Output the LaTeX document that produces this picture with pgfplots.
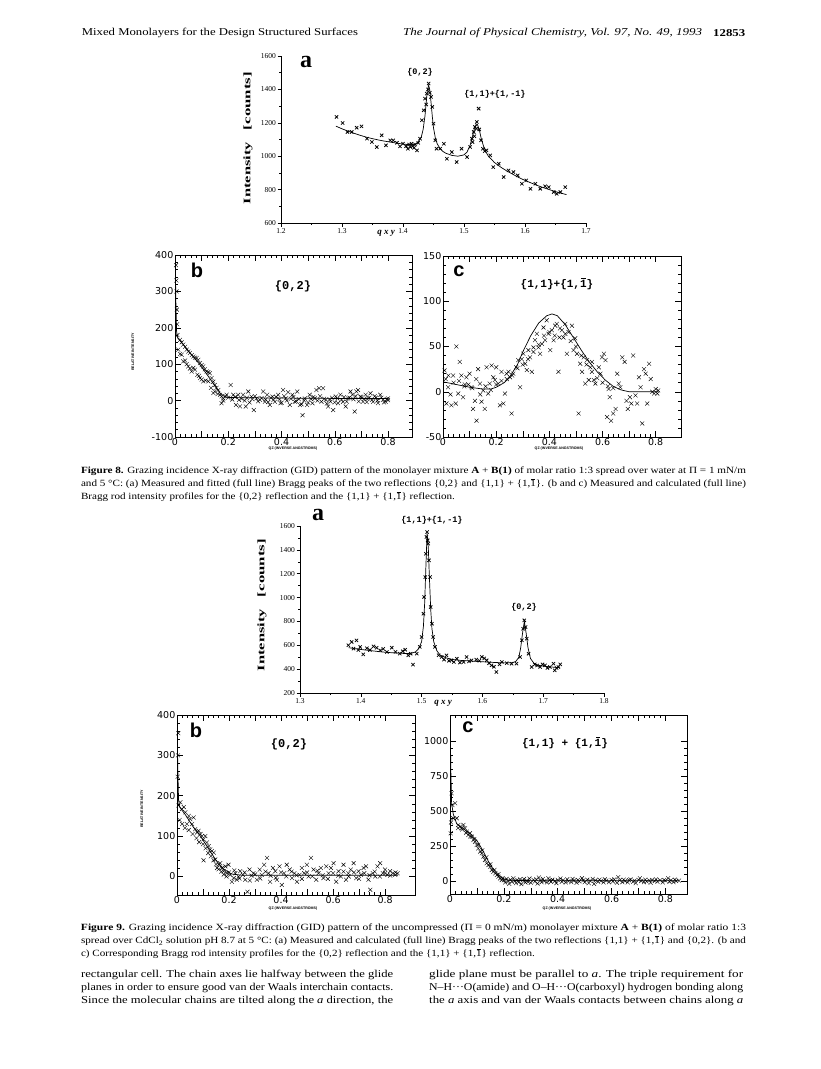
\documentclass[border=0pt]{standalone}
\usepackage{pgfplots}
\pgfplotsset{compat=1.18}
\usepackage{fontspec}
\usepackage{graphicx}
\setmainfont{Liberation Serif}
\newfontfamily\dv{DejaVu Sans}
\newfontfamily\mono{Liberation Mono}
\newfontfamily\hv{Liberation Sans}
\newcommand\fitw[2]{\resizebox{#1}{\height}{#2}}
\newcommand\bo{\makebox[0pt][l]{\kern0.06em\rule[0.74em]{0.38em}{0.055em}}1}
\newcommand\bom{\makebox[0pt][l]{\kern0.12em\rule[0.74em]{0.38em}{0.07em}}1}
\pgfplotsset{
 apanel/.style={scale only axis, axis x line=bottom, axis y line=left,
   axis line style={-, line width=0.6pt}, tick align=outside,
   tick style={black, line width=0.5pt}, major tick length=3.5pt, minor tick length=2pt,
   minor tick num=1,
   tick label style={font=\fontsize{7.5}{7.5}\selectfont, inner sep=1.5pt},
   clip=false},
 bpanel/.style={scale only axis, tick align=inside, tick pos=both,
   axis line style={line width=0.6pt},
   tick style={black, line width=0.5pt}, major tick length=6pt, minor tick length=3pt,
   minor tick num=4,
   xtick={0,0.1,0.2,0.3,0.4,0.5,0.6,0.7,0.8},
   xticklabels={0,,0.2,,0.4,,0.6,,0.8},
   tick label style={font=\dv\fontsize{9.5}{9.5}\selectfont, inner sep=1.5pt},
   xmin=0},
 amark/.style={only marks, mark=x, mark size=2.3pt, mark options={line width=0.75pt}},
 bmark/.style={only marks, mark=x, mark size=2.8pt, mark options={line width=0.4pt}},
 fit/.style={no marks, line width=0.7pt, black},
}
\begin{document}
\begin{tikzpicture}
\useasboundingbox (0pt,0pt) rectangle (821pt,-1069pt);
\fill[white] (0pt,0pt) rectangle (821pt,-1069pt);

% ---------- header ----------
\node[anchor=west, inner sep=0] at (81.7pt,-33pt) {\fitw{276pt}{\fontsize{10.5}{11}\selectfont Mixed Monolayers for the Design Structured Surfaces}};
\node[anchor=west, inner sep=0] at (403pt,-33pt) {\fitw{299pt}{\fontsize{10.5}{11}\selectfont\itshape The Journal of Physical Chemistry, Vol. 97, No. 49, 1993}};
\node[anchor=west, inner sep=0] at (713pt,-33pt) {\fitw{32pt}{\fontsize{10.5}{11}\selectfont\bfseries 12853}};

% ---------- Fig 8a ----------
\begin{axis}[apanel, at={(281pt,-223pt)}, anchor=south west, width=305pt, height=167pt,
  xmin=1.2, xmax=1.7, ymin=600, ymax=1600,
  xtick={1.2,1.3,1.4,1.5,1.6,1.7}, xticklabels={1.2,1.3,1.4,1.5,1.6,1.7},
  ytick={600,800,1000,1200,1400,1600}, yticklabels={600,800,1000,1200,1400,1600}]
\addplot[amark] coordinates {(1.291,1235)(1.301,1199)(1.309,1145)(1.316,1145)(1.324,1171)(1.332,1179)(1.341,1105)(1.349,1085)(1.357,1055)(1.365,1125)(1.372,1065)(1.379,1095)(1.384,1095)(1.390,1080)(1.395,1059)(1.400,1075)(1.405,1060)(1.408,1045)(1.410,1070)(1.412,1055)(1.414,1075)(1.416,1060)(1.418,1050)(1.420,1070)(1.423,1035)(1.425,1080)(1.428,1105)(1.431,1215)(1.434,1275)(1.436,1345)(1.438,1310)(1.439,1375)(1.441,1400)(1.442,1435)(1.444,1380)(1.446,1355)(1.448,1295)(1.450,1195)(1.453,1095)(1.455,1045)(1.461,1045)(1.467,1075)(1.472,985)(1.480,1025)(1.488,965)(1.496,1045)(1.505,995)(1.510,1055)(1.513,1105)(1.514,1085)(1.516,1145)(1.517,1120)(1.518,1175)(1.520,1165)(1.521,1205)(1.524,1285)(1.525,1160)(1.528,1095)(1.531,1045)(1.534,1030)(1.537,1035)(1.543,1005)(1.548,935)(1.557,955)(1.565,875)(1.573,915)(1.581,905)(1.588,885)(1.595,835)(1.602,855)(1.609,805)(1.617,835)(1.625,805)(1.633,820)(1.639,815)(1.647,785)(1.652,775)(1.658,785)(1.666,815)};
\addplot[fit] coordinates {(1.29,1180)(1.30,1164)(1.31,1150)(1.32,1137)(1.33,1125)(1.34,1114)(1.35,1105)(1.36,1097)(1.37,1090)(1.38,1084)(1.39,1078)(1.40,1073)(1.41,1069)(1.415,1068)(1.42,1072)(1.425,1085)(1.43,1115)(1.433,1160)(1.436,1240)(1.438,1320)(1.44,1395)(1.442,1425)(1.444,1395)(1.446,1320)(1.448,1240)(1.45,1170)(1.453,1110)(1.456,1075)(1.46,1050)(1.465,1030)(1.47,1018)(1.48,1005)(1.49,1000)(1.50,1008)(1.505,1025)(1.51,1065)(1.514,1120)(1.517,1165)(1.52,1192)(1.522,1190)(1.525,1160)(1.528,1110)(1.532,1060)(1.536,1025)(1.54,1000)(1.55,962)(1.56,935)(1.57,912)(1.58,892)(1.59,872)(1.60,855)(1.61,840)(1.62,825)(1.63,812)(1.64,800)(1.65,788)(1.66,778)(1.668,770)};
\end{axis}
\node[font=\fontsize{24}{24}\selectfont\bfseries] at (306pt,-62pt) {a};
\node[font=\mono\bfseries\fontsize{8.5}{9}\selectfont] at (420pt,-72pt) {\{0,2\}};
\node[font=\mono\bfseries\fontsize{8.5}{9}\selectfont] at (495pt,-94.5pt) {\{1,1\}+\{1,-1\}};
\node[fill=white, inner sep=1pt, font=\bfseries\itshape\fontsize{9}{9}\selectfont] at (386pt,-233pt) {q x y};
\node[rotate=90, font=\bfseries\fontsize{10}{10}\selectfont] at (248pt,-138pt) {\fitw{62pt}{Intensity}\hspace{12pt}\fitw{58pt}{[counts]}};

% ---------- Fig 8b ----------
\begin{axis}[bpanel, at={(175pt,-437pt)}, anchor=south west, width=237pt, height=182pt,
  xmax=0.89, ymin=-100, ymax=400,
  ytick={-100,0,100,200,300,400}, yticklabels={-100,0,100,200,300,400}]
\addplot[bmark] coordinates {(0.004,372)(0.005,330)(0.006,300)(0.007,250)(0.008,210)(0.009,180)
(0.019,167)(0.025,160)(0.031,154)(0.038,148)(0.044,140)(0.05,135)(0.056,131)(0.063,125)(0.069,121)(0.075,118)(0.081,117)(0.0875,112)(0.094,103)(0.1,98)(0.106,94)(0.112,86)(0.119,80)(0.125,78)(0.131,75)(0.1375,62)(0.144,52)(0.15,43)(0.156,35)(0.1625,29)(0.169,16)(0.175,12)(0.181,6)
(0.012,140)(0.019,128)(0.025,126)(0.031,108)(0.038,110)(0.044,100)(0.05,94)(0.056,88)(0.0625,80)(0.069,90)(0.075,85)(0.084,71)(0.09,68)(0.094,62)(0.1,58)(0.106,53)(0.115,55)(0.125,53)(0.135,35)(0.144,21)(0.15,25)(0.16,18)(0.175,-7)(0.181,0)(0.19,12)
(0.194,16)(0.209,43)(0.219,16)(0.229,-12)(0.2375,16)(0.244,-16)(0.256,16)(0.266,-16)(0.275,25)(0.2875,11)(0.296,-26)(0.306,6)(0.319,2)(0.331,25)(0.3375,-3)(0.346,16)(0.356,-12)(0.366,11)(0.375,-3)(0.3875,16)(0.396,-7)(0.406,29)(0.416,6)(0.425,23)(0.431,-12)(0.441,16)(0.45,-3)(0.459,25)(0.469,-12)(0.479,-40)(0.4875,6)(0.496,-12)(0.506,16)(0.516,-7)(0.525,6)(0.531,29)(0.541,34)(0.55,-3)(0.556,34)(0.566,2)(0.575,-16)(0.584,-3)(0.594,-26)(0.604,11)(0.6125,-7)(0.621,16)(0.631,-3)(0.641,-16)(0.65,6)(0.659,25)(0.666,16)(0.675,-30)(0.681,25)(0.6875,29)(0.696,11)(0.706,-3)(0.716,16)(0.725,6)(0.734,20)(0.744,-3)(0.754,8)(0.7625,-7)(0.771,16)(0.781,2)(0.791,-3)(0.8,6)
(0.2,8)(0.215,3)(0.225,10)(0.24,2)(0.25,5)(0.262,0)(0.27,8)(0.28,-5)(0.29,4)(0.3,12)(0.312,-2)(0.325,7)(0.34,3)(0.35,-4)(0.36,8)(0.37,2)(0.38,10)(0.392,4)(0.4,-6)(0.41,12)(0.42,0)(0.435,5)(0.445,10)(0.455,-2)(0.465,4)(0.475,-10)(0.485,0)(0.5,-5)(0.51,5)(0.52,10)(0.535,0)(0.545,12)(0.56,5)(0.57,-8)(0.58,4)(0.59,8)(0.6,-5)(0.61,6)(0.625,2)(0.635,10)(0.645,-3)(0.655,8)(0.67,4)(0.678,12)(0.69,-2)(0.7,10)(0.71,5)(0.72,-4)(0.73,8)(0.74,2)(0.75,12)(0.76,0)(0.775,8)(0.785,-5)(0.795,4)(0.8,1)};
\addplot[fit] coordinates {(0.001,400)(0.003,280)(0.006,190)(0.01,172)(0.03,155)(0.06,128)(0.09,102)(0.12,72)(0.15,40)(0.17,20)(0.19,9)(0.25,8)(0.4,7)(0.6,6)(0.8,6)};
\end{axis}
\node[font=\hv\bfseries\fontsize{20}{20}\selectfont] at (197pt,-270pt) {b};
\node[font=\mono\bfseries\fontsize{12}{12}\selectfont] at (293pt,-286pt) {\{0,2\}};
\node[font=\hv\bfseries\fontsize{3.6}{4}\selectfont] at (293pt,-449pt) {QZ (INVERSE ANGSTROMS)};
\node[rotate=90, font=\hv\bfseries\fontsize{3.6}{4}\selectfont] at (133pt,-352pt) {RELATIVE INTENSITY};

% ---------- Fig 8c ----------
\begin{axis}[bpanel, at={(443pt,-437pt)}, anchor=south west, width=238pt, height=181pt,
  xmax=0.895, ymin=-50, ymax=150,
  ytick={-50,0,50,100,150}, yticklabels={-50,0,50,100,150}]
\addplot[bmark] coordinates {(0.006,23.6)(0.01,14)(0.019,5)(0.013,-13)(0.0315,-15)(0.048,-13)(0.028,-3)(0.038,18)(0.05,50)(0.063,33)(0.057,-2)(0.069,18)(0.0756,-6)(0.082,8)(0.088,16)(0.1,20)(0.107,5)(0.113,-19)(0.12,-10)(0.126,-32)(0.132,25)(0.139,9)(0.145,-11)(0.151,1.5)(0.157,-19)(0.164,27)(0.17,-2)(0.176,9)(0.183,29)(0.189,16)(0.195,13)(0.2,27)(0.208,9)(0.214,-15)(0.22,22)(0.227,-13)(0.233,-2)(0.239,20)(0.246,22)(0.252,16)(0.258,-24)(0.264,20)(0.275,27)(0.283,35)(0.29,5)(0.296,36)(0.302,42)(0.309,31)(0.315,24)(0.321,46)(0.327,38)(0.334,22)(0.34,49)(0.346,57)(0.353,64)(0.359,49)(0.365,42)(0.372,53)(0.378,71)(0.384,57)(0.39,79)(0.397,64)(0.403,46)(0.409,68)(0.416,57)(0.422,73)(0.428,75)(0.434,22)(0.438,60)(0.447,68)(0.453,60)(0.46,75)(0.466,42)(0.472,66)(0.485,73)(0.491,46)(0.497,59)(0.504,42)(0.51,-24)(0.516,31)(0.523,22)(0.529,38)(0.535,9)(0.542,35)(0.548,13)(0.554,27)(0.56,33)(0.567,13)(0.573,9)(0.586,27)(0.592,20)(0.598,38)(0.605,42)(0.611,35)(0.617,-28)(0.623,3)(0.627,-6)(0.632,-32)(0.64,-24)(0.649,-19)(0.655,20)(0.661,9)(0.667,5)(0.674,38)(0.683,33)(0.69,-10)(0.695,-19)(0.703,-6)(0.708,-13)(0.715,40)(0.724,-4)(0.73,-13)(0.737,16)(0.743,5)(0.749,-35)(0.756,25)(0.762,20)(0.768,-13)(0.775,31)(0.781,14)(0.787,0)(0.794,-2)(0.8,3)(0.806,-2)(0.809,1.5)
(0.02,18)(0.04,10)(0.06,12)(0.08,6)(0.095,8)(0.11,4)(0.125,14)(0.14,-3)(0.16,6)(0.18,2)(0.2,8)(0.22,12)(0.24,14)(0.26,18)(0.28,26)(0.3,30)(0.32,36)(0.34,44)(0.36,52)(0.38,62)(0.4,66)(0.42,62)(0.44,70)(0.46,64)(0.48,56)(0.5,50)(0.52,40)(0.54,30)(0.56,22)(0.58,15)(0.6,10)(0.62,6)(0.64,4)};
\addplot[fit] coordinates {(0,11)(0.05,8)(0.1,5)(0.15,3)(0.18,3)(0.2,5)(0.23,10)(0.25,16)(0.28,30)(0.3,44)(0.33,62)(0.36,76)(0.39,84)(0.41,86)(0.43,84)(0.46,74)(0.49,60)(0.52,46)(0.55,33)(0.58,22)(0.61,13)(0.64,6)(0.67,2)(0.7,0)(0.75,0)(0.81,0)};
\end{axis}
\node[font=\hv\bfseries\fontsize{20}{20}\selectfont] at (459pt,-271pt) {c};
\node[font=\mono\bfseries\fontsize{11}{11}\selectfont] at (557pt,-284pt) {\{1,1\}+\{1,\bom\}};
\node[font=\hv\bfseries\fontsize{3.6}{4}\selectfont] at (559pt,-449pt) {QZ (INVERSE ANGSTROMS)};

% ---------- Fig 8 caption ----------
\begin{scope}[every node/.style={anchor=west, inner sep=0, font=\fontsize{9.5}{10}\selectfont}]
\node at (80.8pt,-471pt) {\fitw{665pt}{\textbf{Figure 8.} Grazing incidence X-ray diffraction (GID) pattern of the monolayer mixture \textbf{A} + \textbf{B(1)} of molar ratio 1:3 spread over water at Π = 1 mN/m}};
\node at (80.8pt,-484pt) {\fitw{665pt}{and 5 °C: (a) Measured and fitted (full line) Bragg peaks of the two reflections \{0,2\} and \{1,1\} + \{1,\bo\}. (b and c) Measured and calculated (full line)}};
\node at (80.8pt,-497pt) {\fitw{374pt}{Bragg rod intensity profiles for the \{0,2\} reflection and the \{1,1\} + \{1,\bo\} reflection.}};
\end{scope}

% ---------- Fig 9a ----------
\begin{axis}[apanel, at={(300pt,-693pt)}, anchor=south west, width=304pt, height=167pt,
  xmin=1.3, xmax=1.8, ymin=200, ymax=1600,
  xtick={1.3,1.4,1.5,1.6,1.7,1.8}, xticklabels={1.3,1.4,1.5,1.6,1.7,1.8},
  ytick={200,400,600,800,1000,1200,1400,1600}, yticklabels={200,400,600,800,1000,1200,1400,1600}]
\addplot[amark] coordinates {(1.3795,600)(1.385,628)(1.388,572)(1.393,641)(1.396,560)(1.399,586)(1.404,524)(1.41,575)(1.415,560)(1.421,591)(1.426,580)(1.432,558)(1.437,570)(1.443,544)(1.451,580)(1.457,545)(1.464,530)(1.469,550)(1.473,563)(1.478,516)(1.482,530)(1.486,438)(1.492,530)(1.497,586)(1.500,670)(1.503,865)(1.504,1005)(1.506,1172)(1.507,1368)(1.508,1508)(1.509,1550)(1.510,1480)(1.511,1452)(1.512,1312)(1.514,1172)(1.515,921)(1.517,781)(1.519,670)(1.522,586)(1.528,516)(1.533,502)(1.537,480)(1.541,516)(1.545,470)(1.549,474)(1.553,460)(1.558,488)(1.563,455)(1.569,460)(1.574,502)(1.578,465)(1.582,474)(1.59,480)(1.595,470)(1.599,502)(1.603,490)(1.607,474)(1.611,450)(1.615,432)(1.619,420)(1.623,376)(1.628,440)(1.632,460)(1.64,450)(1.648,446)(1.656,446)(1.662,502)(1.665,642)(1.667,739)(1.669,809)(1.671,753)(1.673,656)(1.676,530)(1.681,418)(1.686,440)(1.69,430)(1.695,418)(1.699,440)(1.703,432)(1.707,410)(1.711,418)(1.717,446)(1.719,390)(1.722,410)(1.725,418)(1.728,440)};
\addplot[fit] coordinates {(1.38,580)(1.39,572)(1.40,565)(1.41,559)(1.42,553)(1.43,547)(1.44,542)(1.45,538)(1.46,535)(1.47,532)(1.48,532)(1.485,536)(1.49,545)(1.495,570)(1.50,630)(1.503,760)(1.505,950)(1.507,1250)(1.509,1540)(1.511,1420)(1.513,1150)(1.515,900)(1.517,740)(1.52,630)(1.525,555)(1.53,520)(1.54,495)(1.55,482)(1.56,475)(1.58,468)(1.60,462)(1.62,456)(1.64,452)(1.65,455)(1.655,465)(1.66,500)(1.663,580)(1.666,700)(1.669,800)(1.672,700)(1.675,580)(1.679,490)(1.685,448)(1.69,435)(1.70,425)(1.71,420)(1.72,415)(1.728,412)};
\end{axis}
\node[font=\fontsize{24}{24}\selectfont\bfseries] at (318pt,-515pt) {a};
\node[font=\mono\bfseries\fontsize{8.5}{9}\selectfont] at (432pt,-520pt) {\{1,1\}+\{1,-1\}};
\node[font=\mono\bfseries\fontsize{8.5}{9}\selectfont] at (524pt,-607pt) {\{0,2\}};
\node[fill=white, inner sep=1pt, font=\bfseries\itshape\fontsize{9}{9}\selectfont] at (443pt,-703pt) {q x y};
\node[rotate=90, font=\bfseries\fontsize{10}{10}\selectfont] at (262pt,-605pt) {\fitw{62pt}{Intensity}\hspace{12pt}\fitw{58pt}{[counts]}};

% ---------- Fig 9b ----------
\begin{axis}[bpanel, at={(177pt,-895pt)}, anchor=south west, width=238pt, height=180pt,
  xmax=0.915, ymin=-46, ymax=400,
  ytick={0,100,200,300,400}, yticklabels={0,100,200,300,400}]
\addplot[bmark] coordinates {(0.0026,247)(0.004,300)(0.005,355)(0.006,176)(0.013,184)(0.019,167)(0.026,172)(0.032,159)(0.038,130)(0.045,150)(0.051,142)(0.058,130)(0.064,146)(0.07,117)(0.077,109)(0.083,113)(0.09,105)(0.096,100)(0.102,92)(0.109,100)(0.102,40)(0.115,84)(0.122,75)(0.128,67)(0.134,63)(0.141,59)(0.147,42)(0.154,21)(0.16,29)(0.166,33)(0.173,21)(0.179,13)(0.186,25)(0.192,8)(0.198,29)(0.205,4)(0.211,-13)(0.218,-4)(0.224,8)(0.23,-8)(0.237,0)(0.243,13)(0.253,4)(0.262,-8)(0.271,-38)(0.279,17)(0.286,2)(0.294,8)(0.307,-8)(0.318,17)(0.326,4)(0.335,29)(0.346,46)(0.352,8)(0.358,-13)(0.369,21)(0.378,13)(0.384,-8)(0.394,25)(0.403,-21)(0.412,8)(0.422,29)(0.433,17)(0.442,-4)(0.451,8)(0.461,-13)(0.471,4)(0.48,21)(0.489,8)(0.499,29)(0.506,0)(0.515,46)(0.525,17)(0.535,-8)(0.544,8)(0.553,21)(0.563,-4)(0.574,25)(0.583,8)(0.592,21)(0.602,33)(0.612,-13)(0.621,13)(0.63,0)(0.64,29)(0.65,-8)(0.659,8)(0.668,17)(0.679,33)(0.689,-4)(0.698,13)(0.707,4)(0.717,21)(0.727,25)(0.736,-8)(0.743,-33)(0.753,8)(0.762,0)(0.771,25)(0.781,33)(0.791,8)(0.8,17)(0.809,4)(0.819,13)(0.83,8)(0.839,4)(0.848,8)
(0.01,140)(0.02,130)(0.03,120)(0.045,115)(0.06,105)(0.075,95)(0.085,85)(0.1,80)(0.11,70)(0.12,58)(0.13,50)(0.14,40)(0.15,30)(0.16,18)(0.17,12)(0.18,5)(0.19,0)(0.2,10)(0.22,15)(0.24,-5)(0.26,10)(0.28,-10)(0.3,5)(0.32,-5)(0.34,12)(0.36,2)(0.38,-3)(0.4,10)(0.42,0)(0.44,12)(0.46,3)(0.48,-6)(0.5,10)(0.52,0)(0.54,14)(0.56,3)(0.58,-6)(0.6,8)(0.62,2)(0.64,12)(0.66,0)(0.68,10)(0.7,-6)(0.72,8)(0.74,3)(0.76,12)(0.78,0)(0.8,8)(0.82,2)(0.84,10)};
\addplot[fit] coordinates {(0.001,360)(0.003,270)(0.006,190)(0.01,172)(0.03,155)(0.06,125)(0.09,100)(0.12,70)(0.15,40)(0.18,18)(0.21,6)(0.25,3)(0.4,3)(0.6,3)(0.85,3)};
\end{axis}
\node[font=\hv\bfseries\fontsize{20}{20}\selectfont] at (196pt,-730pt) {b};
\node[font=\mono\bfseries\fontsize{12}{12}\selectfont] at (289pt,-744pt) {\{0,2\}};
\node[font=\hv\bfseries\fontsize{3.6}{4}\selectfont] at (293pt,-909pt) {QZ (INVERSE ANGSTROMS)};
\node[rotate=90, font=\hv\bfseries\fontsize{3.6}{4}\selectfont] at (142pt,-809pt) {RELATIVE INTENSITY};

% ---------- Fig 9c ----------
\begin{axis}[bpanel, at={(450pt,-894pt)}, anchor=south west, width=237pt, height=179pt,
  xmax=0.88, ymin=-93, ymax=1190,
  ytick={0,250,500,750,1000}, yticklabels={0,250,500,750,1000}]
\addplot[bmark] coordinates {(0.0025,342)(0.004,420)(0.006,629)(0.009,545)(0.012,450)(0.019,557)(0.025,450)(0.031,402)(0.037,390)(0.043,378)(0.05,402)(0.056,378)(0.062,354)(0.068,330)(0.074,342)(0.081,318)(0.087,294)(0.093,282)(0.099,258)(0.105,234)(0.112,211)(0.118,199)(0.124,175)(0.13,151)(0.136,127)(0.143,115)(0.149,103)(0.155,79)(0.161,67)(0.168,55)(0.174,43)(0.18,31)(0.186,19)(0.192,7)
(0.03,380)(0.045,370)(0.06,345)(0.075,320)(0.09,300)(0.105,260)(0.12,220)(0.135,170)(0.15,120)(0.165,80)(0.18,50)(0.195,20)
(0.2,5)(0.205,-10)(0.21,15)(0.215,0)(0.22,-20)(0.225,10)(0.23,-5)(0.235,20)(0.24,0)(0.245,-15)(0.25,8)(0.255,-8)(0.26,12)(0.265,-22)(0.27,5)(0.275,15)(0.28,-10)(0.285,3)(0.29,-5)(0.295,18)(0.3,-12)(0.31,8)(0.315,-3)(0.32,12)(0.325,-18)(0.33,25)(0.335,5)(0.34,-8)(0.345,15)(0.35,0)(0.36,-10)(0.365,20)(0.37,5)(0.375,-5)(0.38,10)(0.39,0)(0.395,-15)(0.4,8)(0.41,18)(0.415,-5)(0.42,5)(0.43,-10)(0.435,12)(0.44,0)(0.45,-8)(0.455,15)(0.46,3)(0.47,-12)(0.475,8)(0.48,-3)(0.49,20)(0.495,5)(0.5,-8)(0.51,10)(0.515,-15)(0.52,3)(0.53,15)(0.535,-20)(0.54,5)(0.55,-5)(0.555,10)(0.56,0)(0.57,-10)(0.575,12)(0.58,3)(0.59,-8)(0.6,8)(0.605,-3)(0.61,12)(0.62,-12)(0.625,28)(0.63,5)(0.64,-8)(0.645,10)(0.65,0)(0.66,-10)(0.665,5)(0.67,12)(0.68,-5)(0.685,3)(0.69,-15)(0.7,8)(0.705,20)(0.71,0)(0.72,-8)(0.725,10)(0.73,-3)(0.74,5)(0.745,-12)(0.75,8)(0.76,0)(0.765,12)(0.77,-5)(0.78,5)(0.79,-10)(0.795,8)(0.8,3)(0.81,20)(0.815,-5)(0.82,5)(0.83,-8)(0.835,10)(0.84,0)(0.85,3)};
\addplot[fit] coordinates {(0.001,1150)(0.003,800)(0.006,560)(0.012,480)(0.025,410)(0.05,375)(0.075,340)(0.1,290)(0.12,225)(0.14,150)(0.16,85)(0.18,40)(0.2,15)(0.22,5)(0.3,3)(0.5,3)(0.85,3)};
\end{axis}
\node[font=\hv\bfseries\fontsize{20}{20}\selectfont] at (468pt,-727pt) {c};
\node[font=\mono\bfseries\fontsize{11}{11}\selectfont] at (565pt,-743pt) {\{1,1\} + \{1,\bom\}};
\node[font=\hv\bfseries\fontsize{3.6}{4}\selectfont] at (567pt,-909pt) {QZ (INVERSE ANGSTROMS)};

% ---------- Fig 9 caption ----------
\begin{scope}[every node/.style={anchor=west, inner sep=0, font=\fontsize{9.5}{10}\selectfont}]
\node at (80.8pt,-928pt) {\fitw{665pt}{\textbf{Figure 9.} Grazing incidence X-ray diffraction (GID) pattern of the uncompressed (Π = 0 mN/m) monolayer mixture \textbf{A} + \textbf{B(1)} of molar ratio 1:3}};
\node at (80.8pt,-941pt) {\fitw{665pt}{spread over CdCl\textsubscript{2} solution pH 8.7 at 5 °C: (a) Measured and calculated (full line) Bragg peaks of the two reflections \{1,1\} + \{1,\bo\} and \{0,2\}. (b and}};
\node at (80.8pt,-954pt) {\fitw{454pt}{c) Corresponding Bragg rod intensity profiles for the \{0,2\} reflection and the \{1,1\} + \{1,\bo\} reflection.}};
\end{scope}

% ---------- body text ----------
\begin{scope}[every node/.style={anchor=west, inner sep=0, font=\fontsize{10.5}{11}\selectfont}]
\node at (81pt,-975pt) {\fitw{312pt}{rectangular cell. The chain axes lie halfway between the glide}};
\node at (81pt,-988pt) {\fitw{312pt}{planes in order to ensure good van der Waals interchain contacts.}};
\node at (81pt,-1001pt) {\fitw{312pt}{Since the molecular chains are tilted along the \textit{a} direction, the}};
\node at (429pt,-975pt) {\fitw{314pt}{glide plane must be parallel to \textit{a}. The triple requirement for}};
\node at (429pt,-988pt) {\fitw{314pt}{N–H···O(amide) and O–H···O(carboxyl) hydrogen bonding along}};
\node at (429pt,-1001pt) {\fitw{314pt}{the \textit{a} axis and van der Waals contacts between chains along \textit{a}}};
\end{scope}
\end{tikzpicture}
\end{document}
